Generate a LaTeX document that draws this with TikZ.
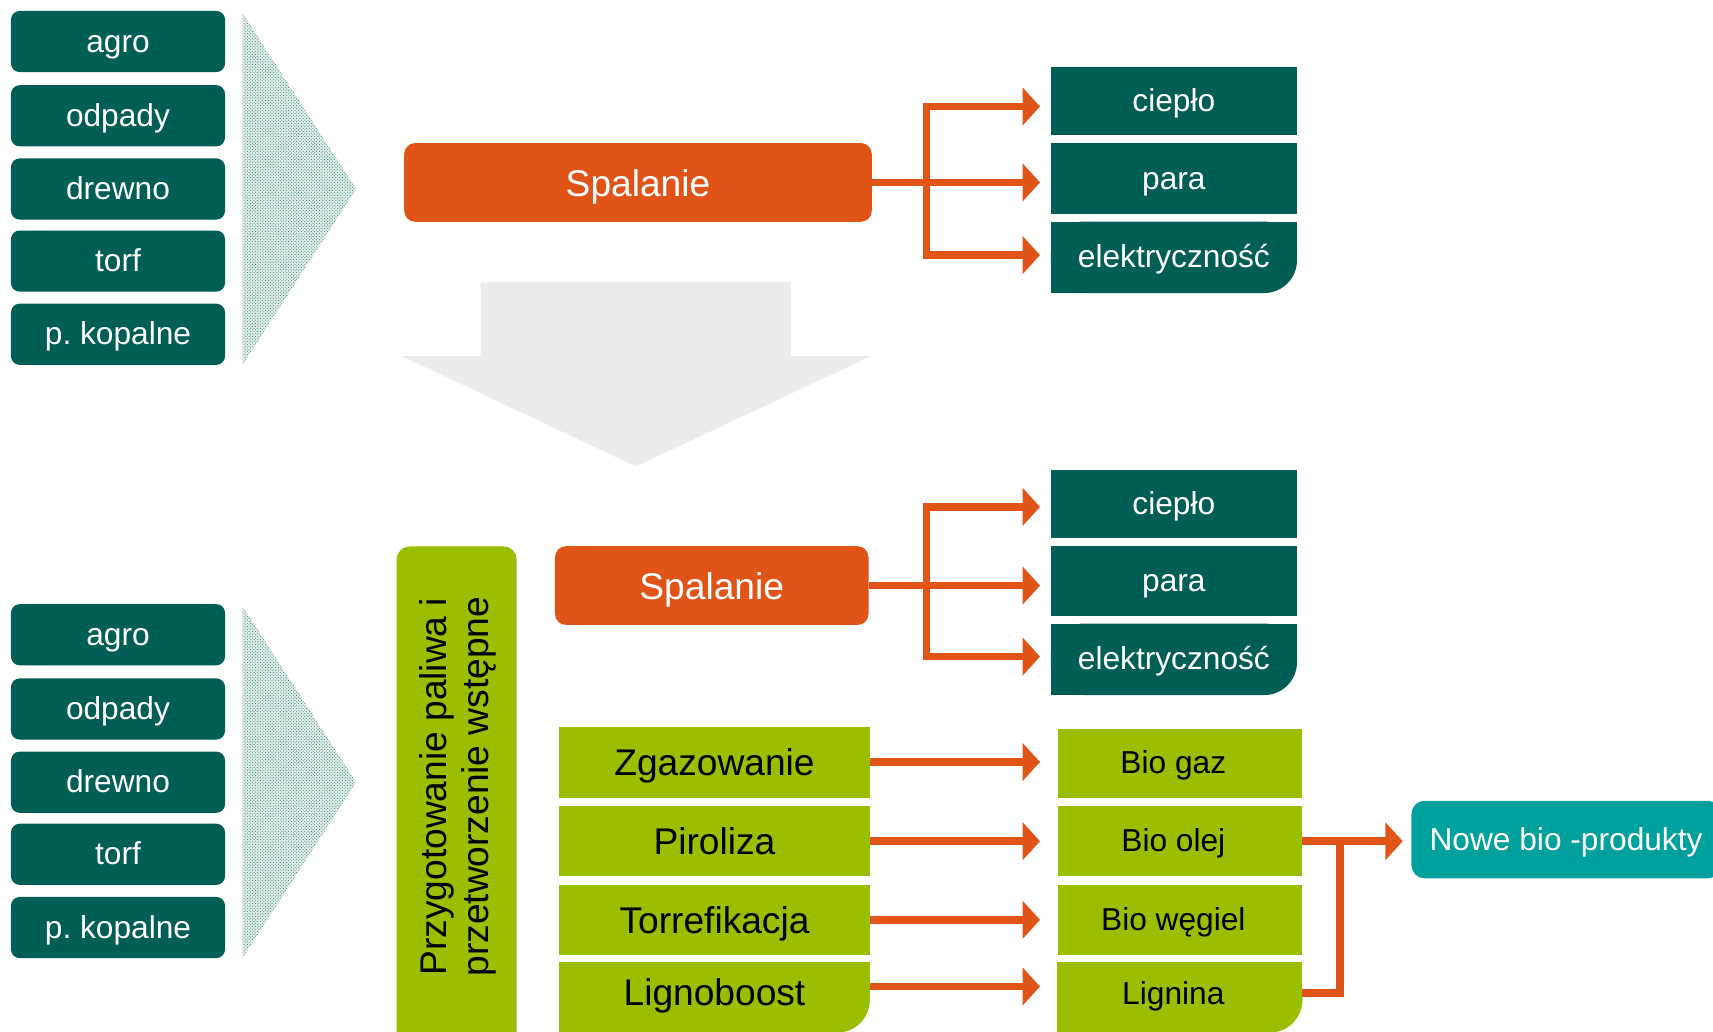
\documentclass[tikz,border=0pt]{standalone}
\usepackage{fontspec}
\setmainfont{Liberation Sans}
\frenchspacing
\usetikzlibrary{arrows.meta,patterns,calc,backgrounds}
\definecolor{dteal}{RGB}{0,94,84}
\definecolor{borange}{RGB}{225,84,24}
\definecolor{lgreen}{RGB}{153,191,0}
\definecolor{cteal}{RGB}{0,160,157}
\definecolor{lgray}{RGB}{235,236,238}
\definecolor{pteal}{RGB}{40,130,120}
\definecolor{pbase}{RGB}{226,236,234}
\newcommand{\myfA}{\fontsize{29}{34}\selectfont}
\newcommand{\myfB}{\fontsize{34}{39}\selectfont}
\begin{document}
\begin{tikzpicture}[x=1pt,y=-1pt,
  txtA/.style={text height=27pt, text depth=7.5pt, font=\myfA},
  txtB/.style={text height=32pt, text depth=7pt, font=\myfB},
  srcbox/.style={txtA, fill=dteal, rounded corners=8pt, minimum width=196pt, minimum height=56pt, inner sep=0pt, text=white},
  outbox/.style={txtA, fill=dteal, minimum width=225pt, inner sep=0pt, text=white},
  outboxr/.style={txtA, minimum width=225pt, inner sep=0pt, text=white},
  procbox/.style={txtB, fill=lgreen, minimum width=284pt, minimum height=64pt, inner sep=0pt},
  procboxr/.style={minimum width=284pt, minimum height=64pt, inner sep=0pt},
  resbox/.style={txtA, fill=lgreen, minimum width=224pt, minimum height=64pt, inner sep=0pt},
  resboxr/.style={minimum width=224pt, minimum height=64pt, inner sep=0pt},
  burnbox/.style={txtB, fill=borange, rounded corners=10pt, minimum height=72pt, inner sep=0pt, text=white},
  conn/.style={draw=borange, line width=7pt},
  arr/.style={conn, -{Triangle[width=34pt,length=16pt]}},
  hatchtri/.style={pattern=crosshatch dots, pattern color=pteal}
]
\useasboundingbox (0,0) rectangle (1568,944);

% ---------- top section ----------
\node[srcbox] (a1) at (108,38) {agro};
\node[srcbox] (b1) at (108,106) {odpady};
\node[srcbox] (c1) at (108,173) {drewno};
\node[srcbox] (d1) at (108,239) {torf};
\node[srcbox] (e1) at (108,306) {p. kopalne};
\fill[pbase] (222,12) -- (326,173) -- (222,334) -- cycle;
\fill[hatchtri] (222,12) -- (326,173) -- (222,334) -- cycle;

\node[burnbox, minimum width=428pt] (sp1) at (584,167) {Spalanie};

\node[outbox, minimum height=63pt] (ci1) at (1074.5,92.5) {ciepło};
\node[outbox, minimum height=65pt] (pa1) at (1074.5,163.5) {para};
\node[outboxr, minimum height=65pt] (el1) at (1074.5,235.5) {elektryczność};

% big gray arrow
\fill[lgray] (440,258) -- (724,258) -- (724,326) -- (797,326) -- (582,427) -- (368,326) -- (440,326) -- cycle;

% ---------- bottom section ----------
\node[srcbox] (a2) at (108,581) {agro};
\node[srcbox] (b2) at (108,649) {odpady};
\node[srcbox] (c2) at (108,716) {drewno};
\node[srcbox] (d2) at (108,782) {torf};
\node[srcbox] (e2) at (108,849) {p. kopalne};
\fill[pbase] (222,555) -- (326,716) -- (222,877) -- cycle;
\fill[hatchtri] (222,555) -- (326,716) -- (222,877) -- cycle;

\node[fill=lgreen, rounded corners=12pt, minimum width=110pt, minimum height=480pt, inner sep=0pt, anchor=north] (prep) at (418,500) {};
\node[rotate=90, align=center, font=\myfB] (prept) at (419,720) {Przygotowanie paliwa i\\przetworzenie wstępne};

\node[burnbox, minimum width=287pt] (sp2) at (651.5,536) {Spalanie};

\node[outbox, minimum height=62pt] (ci2) at (1074.5,461) {ciepło};
\node[outbox, minimum height=64pt] (pa2) at (1074.5,532) {para};
\node[outboxr, minimum height=65pt] (el2) at (1074.5,603.5) {elektryczność};

\node[procbox, minimum height=65pt] (zg) at (654,697.5) {Zgazowanie};
\node[procbox] (pi) at (654,770) {Piroliza};
\node[procbox] (to) at (654,842) {Torrefikacja};
\node[procboxr] (lb) at (654,913) {};
\node[txtB, inner sep=0pt] (lbt) at (654,908) {Lignoboost};

\node[resbox, minimum height=63pt] (bg) at (1080,698.5) {\hspace*{-12pt}Bio gaz};
\node[resbox] (bo) at (1080,770) {\hspace*{-12pt}Bio olej};
\node[resbox] (bw) at (1080,842) {\hspace*{-12pt}Bio węgiel};
\node[resboxr] (lg) at (1080,913) {};
\node[txtA, inner sep=0pt] (lgt) at (1074,910) {Lignina};

\node[txtA, fill=cteal, rounded corners=12pt, minimum width=283pt, minimum height=71pt, inner sep=0pt, text=white] (nw) at (1433.5,768.5) {Nowe bio -produkty};

% boxes with only the bottom-right corner rounded
\begin{scope}[on background layer]
  \foreach \n/\c in {el1/dteal, el2/dteal, lb/lgreen, lg/lgreen}{
    \fill[\c, rounded corners=30pt] (\n.north west) rectangle (\n.south east);
    \fill[\c] (\n.north west) rectangle ([xshift=-30pt]\n.south east);
    \fill[\c] (\n.north west) rectangle ([yshift=30pt]\n.south east);
  }
\end{scope}

% ---------- connectors ----------
\coordinate (xa) at (848,0);
\coordinate (tip) at (952,0);
\coordinate (xb) at (1226.5,0);
\coordinate (tipn) at (1284,0);

\draw[arr] (sp1.east) -- (sp1.east -| tip);
\draw[arr] (sp1.east -| xa) |- ($(ci1.west -| tip)+(0,5)$);
\draw[arr] (sp1.east -| xa) |- ($(el1.west -| tip)+(0,-2)$);

\draw[arr] (sp2.east) -- (sp2.east -| tip);
\draw[arr] (sp2.east -| xa) |- ($(ci2.west -| tip)+(0,3)$);
\draw[arr] (sp2.east -| xa) |- ($(el2.west -| tip)+(0,-2.5)$);

\draw[arr] (zg.east) -- (zg.east -| tip);
\draw[arr] (pi.east) -- (pi.east -| tip);
\draw[arr] (to.east) -- (to.east -| tip);
\draw[arr] ($(lb.east)+(0,-10)$) -- ($(lb.east -| tip)+(0,-10)$);

\draw[arr] (bo.east) -- (bo.east -| tipn);
\draw[conn] ($(lg.east)+(0,-4)$) -| (bo.east -| xb);
\end{tikzpicture}
\end{document}
